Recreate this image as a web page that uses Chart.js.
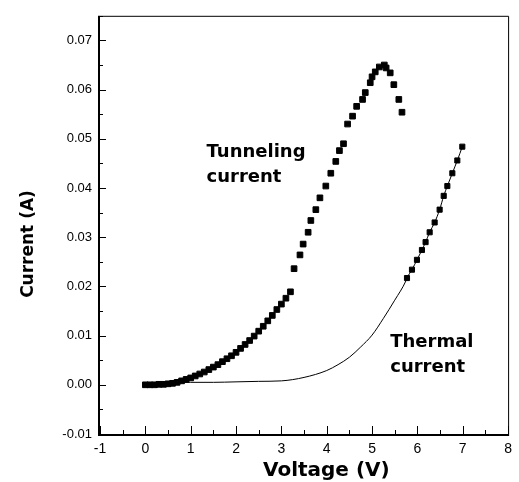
<!DOCTYPE html>
<html lang="en">
<head>
<meta charset="UTF-8">
<title>Tunneling and thermal current</title>
<script src="https://cdn.jsdelivr.net/npm/chart.js"></script>
<style>
  html, body { margin: 0; padding: 0; background: #fff; }
  #wrap { width: 519px; height: 482px; }
</style>
</head>
<body>
<div id="wrap"><canvas id="myChart"></canvas></div>
<script>
// voltage (V) / current (A)
const tunnelV = [0.0, 0.1, 0.2, 0.3, 0.4, 0.5, 0.6, 0.7, 0.8, 0.9, 1.0, 1.1, 1.2, 1.3, 1.4, 1.5, 1.6,
                 1.7, 1.8, 1.9, 2.0, 2.1, 2.2, 2.3, 2.4, 2.5, 2.6, 2.7, 2.8, 2.9, 3.0, 3.1, 3.2,
                 3.28, 3.41, 3.48, 3.59, 3.65, 3.76, 3.85, 3.98, 4.09, 4.20, 4.28, 4.37, 4.46, 4.57,
                 4.66, 4.79, 4.85, 4.96, 5.00, 5.07, 5.16, 5.27, 5.31, 5.40, 5.48, 5.59, 5.66];
const tunnelI = [0.0000, 0.0000, 0.0000, 0.0001, 0.0001, 0.0002, 0.0003, 0.0005, 0.0008, 0.0011, 0.0014,
                 0.0018, 0.0022, 0.0026, 0.0031, 0.0036, 0.0041, 0.0047, 0.0053, 0.0059, 0.0066, 0.0074,
                 0.0082, 0.0090, 0.0099, 0.0109, 0.0119, 0.0130, 0.0141, 0.0153, 0.0164, 0.0176, 0.0189,
                 0.0236, 0.0264, 0.0286, 0.0310, 0.0334, 0.0356, 0.0380, 0.0404, 0.0430, 0.0454, 0.0476,
                 0.0490, 0.0530, 0.0546, 0.0566, 0.0580, 0.0594, 0.0614, 0.0626, 0.0636, 0.0646, 0.0650,
                 0.0644, 0.0634, 0.0610, 0.0580, 0.0554];

const thermalFitV = [0.0, 0.6, 1.0, 1.5, 2.0, 2.5, 3.0, 3.5, 4.0, 4.25, 4.5, 4.75, 5.0, 5.25, 5.5, 5.75];
const thermalFitI = [0.0003, 0.0004, 0.0005, 0.0005, 0.0006, 0.0007, 0.0008, 0.0015, 0.0029, 0.0041,
                     0.0056, 0.0077, 0.0101, 0.0135, 0.0172, 0.0212];

const thermalV = [5.77, 5.88, 5.99, 6.10, 6.18, 6.27, 6.38, 6.49, 6.58, 6.66, 6.77, 6.88, 6.99];
const thermalI = [0.0217, 0.0234, 0.0254, 0.0274, 0.0290, 0.0310, 0.0330, 0.0356, 0.0384, 0.0404,
                  0.0430, 0.0456, 0.0484];

const xTicks = [-1, 0, 1, 2, 3, 4, 5, 6, 7, 8];
const yTicks = [-0.01, 0.00, 0.01, 0.02, 0.03, 0.04, 0.05, 0.06, 0.07];

const xTitle = 'Voltage (V)';
const yTitle = 'Current (A)';
const notes = [
    { lines: ['Tunneling', 'current'], v: 1.35, i: 0.0464 },
    { lines: ['Thermal', 'current'], v: 5.4, i: 0.0076 }
];

function pts(xs, ys) {
    return xs.map((x, k) => ({ x: x, y: ys[k] }));
}

// frame, inward ticks and text labels
const decor = {
    id: 'decor',
    afterDraw(chart) {
        const ctx = chart.ctx;
        const a = chart.chartArea;
        const sx = chart.scales.x, sy = chart.scales.y;
        ctx.save();
        ctx.strokeStyle = '#000';

        // box
        ctx.lineWidth = 1;
        ctx.beginPath();
        ctx.moveTo(a.left, a.top + 0.5);
        ctx.lineTo(a.right + 0.5, a.top + 0.5);
        ctx.lineTo(a.right + 0.5, a.bottom);
        ctx.stroke();
        ctx.lineWidth = 2;
        ctx.beginPath();
        ctx.moveTo(a.left - 1, a.top);
        ctx.lineTo(a.left - 1, a.bottom + 1);
        ctx.lineTo(a.right + 1, a.bottom + 1);
        ctx.stroke();

        // x ticks, pointing up
        ctx.lineWidth = 1;
        ctx.beginPath();
        xTicks.forEach((v, k) => {
            const px = Math.round(sx.getPixelForValue(v)) + 0.5;
            ctx.moveTo(px, a.bottom);
            ctx.lineTo(px, a.bottom - 8);
            if (k < xTicks.length - 1) {
                const m = Math.round(sx.getPixelForValue((v + xTicks[k + 1]) / 2)) + 0.5;
                ctx.moveTo(m, a.bottom);
                ctx.lineTo(m, a.bottom - 4);
            }
        });
        // y ticks, pointing right
        yTicks.forEach((v, k) => {
            const py = Math.round(sy.getPixelForValue(v)) + 0.5;
            ctx.moveTo(a.left, py);
            ctx.lineTo(a.left + 6, py);
            const nxt = k < yTicks.length - 1 ? yTicks[k + 1] : v + 0.01;
            const m = Math.round(sy.getPixelForValue((v + nxt) / 2)) + 0.5;
            if (m > a.top) {
                ctx.moveTo(a.left, m);
                ctx.lineTo(a.left + 3, m);
            }
        });
        ctx.stroke();

        // annotations
        ctx.fillStyle = '#000';
        ctx.textAlign = 'left';
        ctx.textBaseline = 'alphabetic';
        ctx.font = 'bold 18px "DejaVu Sans"';
        notes.forEach(n => {
            const px = sx.getPixelForValue(n.v);
            const py = sy.getPixelForValue(n.i);
            n.lines.forEach((t, k) => ctx.fillText(t, px, py + k * 25));
        });

        // axis titles
        ctx.font = 'bold 20px "DejaVu Sans"';
        ctx.fillText(xTitle, 263, 476);
        ctx.translate(33, 244);
        ctx.rotate(-Math.PI / 2);
        ctx.textAlign = 'center';
        ctx.font = 'bold 17px "DejaVu Sans"';
        ctx.fillText(yTitle, 0, 0);
        ctx.restore();
    }
};

const ctx = document.getElementById('myChart').getContext('2d');
const myChart = new Chart(ctx, {
    type: 'scatter',
    data: {
        datasets: [
            {
                label: 'Thermal fit',
                data: pts(thermalFitV.concat(thermalV), thermalFitI.concat(thermalI)),
                showLine: true,
                borderColor: '#000',
                borderWidth: 1,
                pointRadius: 0,
                cubicInterpolationMode: 'monotone'
            },
            {
                label: 'Thermal current',
                data: pts(thermalV, thermalI),
                pointStyle: 'rect',
                pointRadius: 3.6,
                backgroundColor: '#000',
                borderColor: '#000',
                borderWidth: 1
            },
            {
                label: 'Tunneling current',
                data: pts(tunnelV, tunnelI),
                pointStyle: 'rect',
                pointRadius: 4,
                backgroundColor: '#000',
                borderColor: '#000',
                borderWidth: 1
            }
        ]
    },
    options: {
        responsive: true,
        maintainAspectRatio: false,
        animation: false,
        layout: { padding: { left: 0, right: 7, top: 11, bottom: 0 } },
        plugins: {
            legend: { display: false },
            tooltip: { enabled: false }
        },
        scales: {
            x: {
                type: 'linear',
                min: -1,
                max: 8,
                afterBuildTicks: s => { s.ticks = xTicks.map(v => ({ value: v })); },
                afterFit: s => { s.height = 48; },
                grid: { display: false, drawTicks: false },
                border: { display: false },
                ticks: {
                    padding: 7,
                    color: '#000',
                    font: { family: '"Liberation Sans"', size: 14 },
                    callback: v => String(v)
                }
            },
            y: {
                type: 'linear',
                min: -0.01,
                max: 0.075,
                afterBuildTicks: s => { s.ticks = yTicks.map(v => ({ value: v })); },
                afterFit: s => { s.width = 100; },
                grid: { display: false, drawTicks: false },
                border: { display: false },
                ticks: {
                    padding: 8,
                    color: '#000',
                    font: { family: '"Liberation Sans"', size: 13 },
                    callback: v => v.toFixed(2)
                }
            }
        }
    },
    plugins: [decor]
});
</script>
</body>
</html>
